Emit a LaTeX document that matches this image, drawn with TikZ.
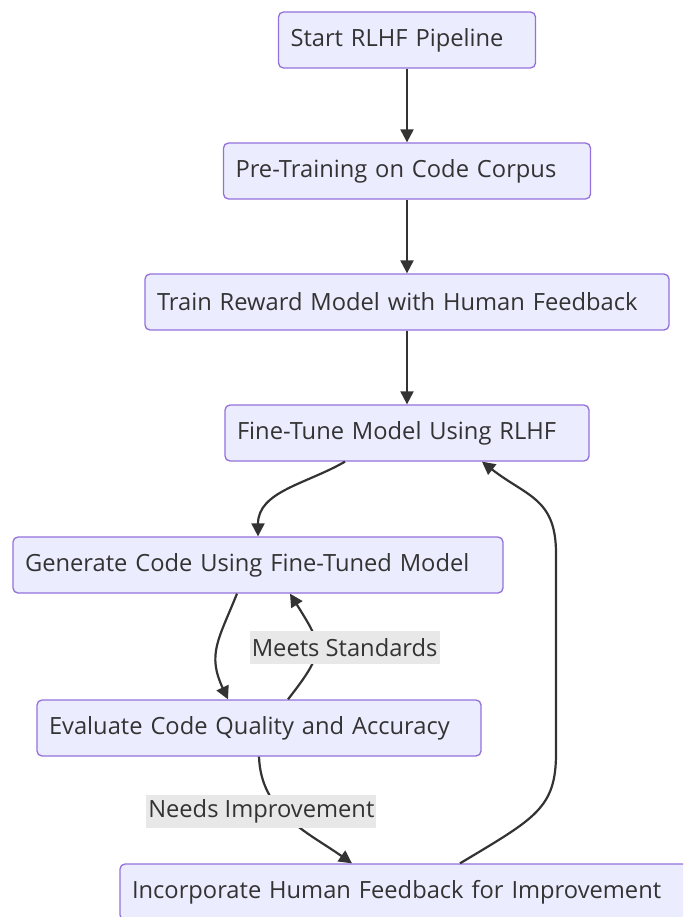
\documentclass[tikz,border=0pt]{standalone}
\usepackage{fontspec}
\setmainfont{Open Sans}
\usepackage{tikz}
\usetikzlibrary{arrows.meta}

\definecolor{boxfill}{HTML}{ECECFF}
\definecolor{boxline}{HTML}{9370DB}
\definecolor{ink}{HTML}{333333}
\definecolor{tagfill}{HTML}{E8E8E8}

\begin{document}
\begin{tikzpicture}[x=1pt, y=1pt,
    >={Triangle[length=13pt, width=13pt]},
    stage/.style={draw=boxline, line width=1.3pt, fill=boxfill, rounded corners=5pt,
        text=ink, font=\fontsize{23.7}{28}\selectfont, align=left,
        text width=#1, inner xsep=12pt, minimum height=56pt},
    flow/.style={->, draw=ink, line width=2.2pt},
    tag/.style={fill=tagfill, text=ink, font=\fontsize{23.7}{28}\selectfont,
        inner xsep=2pt, minimum height=33pt}]
    \useasboundingbox (0,0) rectangle (683,-917);
    \clip (0,0) rectangle (683,-917);

    % Pipeline stages
    \node (start) at (407,-40) [stage=233pt] {Start RLHF Pipeline};
    \node (pretrain) at (407,-171) [stage=343pt] {Pre-Training on Code Corpus};
    \node (reward) at (407,-302) [stage=500pt] {Train Reward Model with Human Feedback};
    \node (finetune) at (407,-433) [stage=340pt] {Fine-Tune Model Using RLHF};
    \node (generate) at (258,-565) [stage=466pt] {Generate Code Using Fine-Tuned Model};
    \node (evaluate) at (259,-728) [stage=420pt] {Evaluate Code Quality and Accuracy};
    \node (incorporate) at (408,-892) [stage=552pt] {Incorporate Human Feedback for Improvement};

    % Straight run down the top
    \draw[flow] (start) -- (pretrain);
    \draw[flow] (pretrain) -- (reward);
    \draw[flow] (reward) -- (finetune);

    % Into the generate / evaluate loop
    \draw[flow] ([xshift=-62pt]finetune.south) to[out=-150, in=90] (generate.north);
    \draw[flow] ([xshift=-21pt]generate.south) to[out=-112, in=115, looseness=1.2] ([xshift=-31pt]evaluate.north);
    \draw[flow] ([xshift=29pt]evaluate.north) to[out=52, in=-58, looseness=1.5]
        node[tag, pos=0.5, xshift=29pt] (meets) {Meets Standards} ([xshift=32pt]generate.south);
    \draw[flow] (evaluate.south) to[out=-88, in=145]
        node[tag, pos=0.42, xshift=-20pt] (needs) {Needs Improvement} ([xshift=-56pt]incorporate.north);

    % Feedback back up to fine-tuning
    \draw[flow] ([xshift=52pt]incorporate.north) .. controls +(75,45) and +(0,-55) .. ++(96,110)
        -- ++(0,200) .. controls +(0,55) and +(45,-35) .. ([xshift=75pt]finetune.south);
\end{tikzpicture}
\end{document}
